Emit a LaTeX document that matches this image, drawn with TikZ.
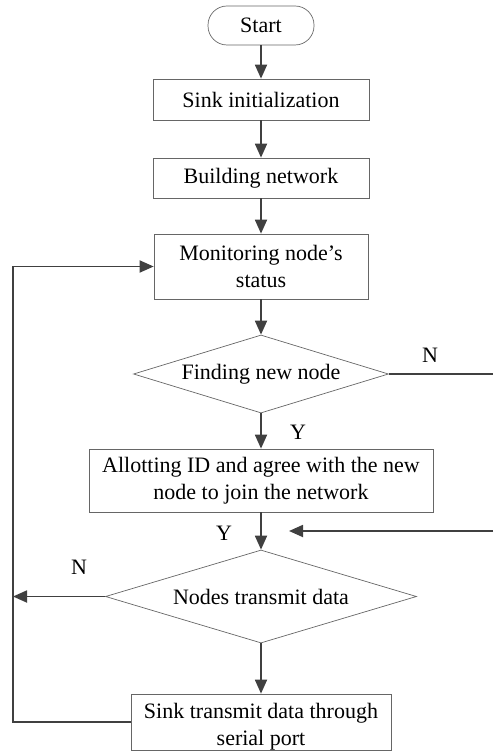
\documentclass[tikz,border=0pt]{standalone}
\usepackage{fontspec}
\setmainfont{Liberation Serif}
\usetikzlibrary{shapes.geometric,arrows.meta}

\tikzset{
  proc/.style={rectangle, draw=black!60, line width=0.7pt, align=center, inner sep=0pt},
  decide/.style={diamond, draw=black!60, line width=0.7pt, inner sep=0pt, aspect=3.3},
  flow/.style={draw=black!75, line width=1.8pt, -{Triangle[length=14pt,width=12pt]}},
  wire/.style={draw=black!75, line width=1.8pt},
  tag/.style={inner sep=0pt}
}

\begin{document}
\begin{tikzpicture}[x=1pt, y=-1pt, font=\fontsize{22}{27}\selectfont]
  \useasboundingbox (0,0) rectangle (493,751);
  \node[proc, rounded corners=19pt, minimum width=106pt, minimum height=39pt] (start) at (261,25.5) {Start};
  \node[proc, minimum width=216pt, minimum height=41pt] (init) at (261,99.5) {Sink initialization};
  \node[proc, minimum width=216pt, minimum height=40pt] (build) at (261,178) {Building network};
  \node[proc, minimum width=214pt, minimum height=65pt] (mon) at (261,266.5) {Monitoring node's\\status};
  \node[decide, minimum width=255pt, minimum height=78pt] (find) at (261,374) {Finding new node};
  \node[proc, minimum width=344pt, minimum height=63pt] (allot) at (261,480.5) {Allotting ID and agree with the new\\node to join the network};
  \node[decide, minimum width=311pt, minimum height=93pt] (trans) at (261,596.5) {Nodes transmit data};
  % text sits low in the last box
  \node[proc, minimum width=260pt, minimum height=56pt] (send) at (261,722) {\rule{0pt}{24pt}Sink transmit data through\\serial port};

  \coordinate (lp) at (13,0);
  \coordinate (nR) at (493,374);
  \coordinate (inR) at (493,531);
  \coordinate (inT) at (289,531);

  \node[tag] (n1) at (430,355) {N};
  \node[tag] (y1) at (298,432) {Y};
  \node[tag] (y2) at (224,533) {Y};
  \node[tag] (n2) at (79,567) {N};

  \draw[flow] (start) -- (init);
  \draw[flow] (init) -- (build);
  \draw[flow] (build) -- (mon);
  \draw[flow] (mon) -- (find);
  \draw[flow] (find) -- (allot);
  \draw[flow] (allot) -- (trans);
  \draw[flow] (trans) -- (send);
  \draw[wire] (find.east) -- (nR);
  \draw[flow] (inR) -- (inT);
  \draw[flow] (trans.west) -- (trans.west -| lp);
  \draw[flow] (send.west) -- (send.west -| lp) |- (mon.west);
\end{tikzpicture}
\end{document}
